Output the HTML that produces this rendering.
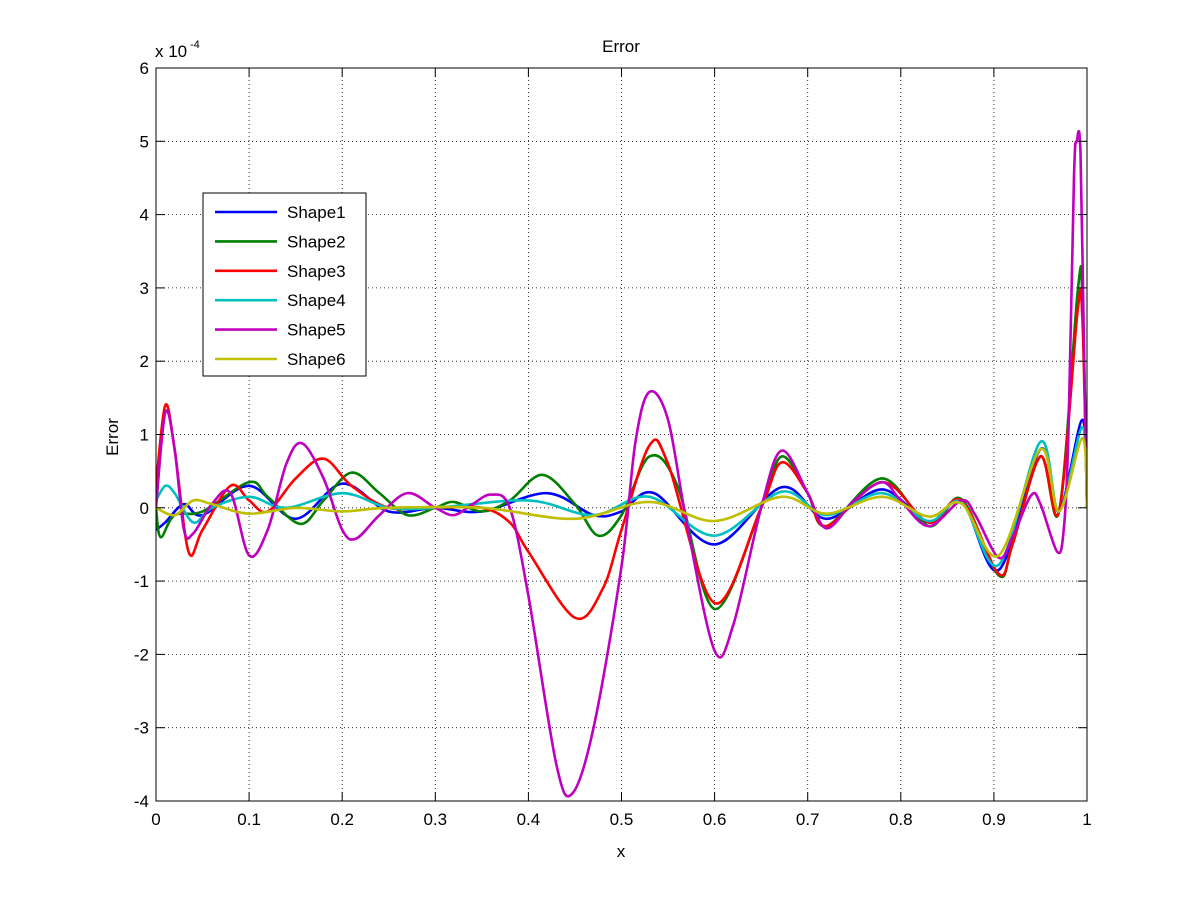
<!DOCTYPE html>
<html><head><meta charset="utf-8"><style>
body{margin:0;background:#fff}
svg text{font-family:"Liberation Sans",Arial,sans-serif;font-size:17px;fill:#000}
</style></head><body>
<svg id="s" width="1201" height="901" viewBox="0 0 1201 901" xmlns="http://www.w3.org/2000/svg">
<rect width="1201" height="901" fill="#fff"/>
<defs><clipPath id="c"><rect x="156" y="68" width="931" height="733"/></clipPath></defs>
<g id="grid"></g>
<g id="series" clip-path="url(#c)" fill="none" stroke-width="2.6" stroke-linejoin="round"></g>
<rect x="156" y="68" width="931" height="733" fill="none" stroke="#000" stroke-width="1"/>
<g id="ticks"></g>
<text x="621" y="52" text-anchor="middle">Error</text>
<text x="155" y="57" font-size="16">x 10</text><text x="190" y="48" style="font-size:11px">-4</text>
<text x="621" y="857" text-anchor="middle">x</text>
<text transform="translate(118,437) rotate(-90)" text-anchor="middle">Error</text>
<rect x="203" y="193" width="163" height="183" fill="#fff" stroke="#000" stroke-width="1"/>
<g id="leg"></g>
</svg>
<script>
const X0=156,X1=1087,Y6=68,Ym4=801;
const px=x=>X0+x*(X1-X0), py=y=>Y6+(6-y)*(Ym4-Y6)/10;
const NS="http://www.w3.org/2000/svg";
function el(p,t,a,txt){const e=document.createElementNS(NS,t);for(const k in a)e.setAttribute(k,a[k]);if(txt!=null)e.textContent=txt;document.getElementById(p).appendChild(e);}
for(let i=0;i<=10;i++){const x=px(i/10);
 if(i>0&&i<10)el("grid","line",{x1:x,y1:68,x2:x,y2:801,stroke:"#000","stroke-width":0.8,"stroke-dasharray":"1,3"});
 el("ticks","line",{x1:x,y1:801,x2:x,y2:792,stroke:"#000"});el("ticks","line",{x1:x,y1:68,x2:x,y2:77,stroke:"#000"});
 el("ticks","text",{x:x,y:825,"text-anchor":"middle"},i==0?"0":i==10?"1":(i/10).toFixed(1));}
for(let v=-4;v<=6;v++){const y=py(v);
 if(v>-4&&v<6)el("grid","line",{x1:156,y1:y,x2:1087,y2:y,stroke:"#000","stroke-width":0.8,"stroke-dasharray":"1,3"});
 el("ticks","line",{x1:156,y1:y,x2:165,y2:y,stroke:"#000"});el("ticks","line",{x1:1087,y1:y,x2:1078,y2:y,stroke:"#000"});
 el("ticks","text",{x:149,y:y+6,"text-anchor":"end"},String(v));}
const S=[
["#0000ff","Shape1",[[0,-0.3],[0.01,-0.2],[0.03,0.05],[0.05,-0.1],[0.1,0.3],[0.15,-0.15],[0.2,0.33],[0.25,-0.05],[0.3,0],[0.35,-0.05],[0.42,0.2],[0.47,-0.1],[0.5,-0.05],[0.535,0.2],[0.6,-0.5],[0.672,0.28],[0.72,-0.15],[0.78,0.25],[0.83,-0.2],[0.865,0.1],[0.905,-0.85],[0.95,0.8],[0.97,-0.05],[0.995,1.2],[1,0]]],
["#008000","Shape2",[[0,0],[0.005,-0.4],[0.02,-0.1],[0.05,-0.05],[0.1,0.35],[0.12,0.15],[0.155,-0.22],[0.18,0.1],[0.21,0.48],[0.24,0.2],[0.27,-0.1],[0.3,0],[0.32,0.08],[0.35,-0.05],[0.38,0.1],[0.415,0.45],[0.45,0.05],[0.475,-0.38],[0.5,-0.1],[0.53,0.7],[0.56,0.3],[0.6,-1.38],[0.65,0],[0.672,0.7],[0.7,0.2],[0.72,-0.25],[0.78,0.4],[0.83,-0.25],[0.865,0.12],[0.905,-0.92],[0.92,-0.5],[0.95,0.7],[0.97,-0.05],[0.99,2.95],[0.995,2.9],[1,0]]],
["#ff0000","Shape3",[[0,0.3],[0.01,1.4],[0.02,0.8],[0.035,-0.6],[0.05,-0.3],[0.08,0.3],[0.1,0.1],[0.12,-0.05],[0.15,0.4],[0.18,0.67],[0.21,0.3],[0.25,0],[0.3,0],[0.35,0],[0.38,-0.2],[0.4,-0.6],[0.45,-1.5],[0.48,-1.1],[0.5,-0.3],[0.53,0.85],[0.55,0.6],[0.6,-1.3],[0.65,0],[0.672,0.62],[0.7,0.2],[0.72,-0.25],[0.78,0.35],[0.83,-0.2],[0.865,0.1],[0.905,-0.9],[0.92,-0.5],[0.95,0.7],[0.97,-0.05],[0.99,2.7],[0.995,2.6],[1,0]]],
["#00bfbf","Shape4",[[0,0.1],[0.01,0.3],[0.02,0.2],[0.04,-0.2],[0.06,0],[0.1,0.15],[0.14,0],[0.2,0.2],[0.25,0],[0.3,0],[0.4,0.1],[0.47,-0.1],[0.53,0.15],[0.6,-0.38],[0.672,0.22],[0.72,-0.1],[0.78,0.2],[0.83,-0.18],[0.865,0.08],[0.905,-0.78],[0.95,0.9],[0.97,-0.05],[0.995,1.1],[1,0]]],
["#bf00bf","Shape5",[[0,0],[0.01,1.3],[0.02,0.8],[0.03,-0.3],[0.04,-0.35],[0.06,0.05],[0.08,0.2],[0.1,-0.65],[0.12,-0.3],[0.14,0.6],[0.157,0.88],[0.18,0.4],[0.2,-0.3],[0.215,-0.42],[0.24,-0.1],[0.27,0.2],[0.3,0],[0.32,-0.1],[0.34,0.05],[0.36,0.18],[0.38,0],[0.4,-1.2],[0.43,-3.5],[0.447,-3.9],[0.47,-3.0],[0.5,-0.8],[0.515,0.9],[0.53,1.58],[0.55,1.2],[0.57,-0.2],[0.6,-1.95],[0.62,-1.6],[0.65,0],[0.672,0.78],[0.7,0.2],[0.72,-0.28],[0.75,0.1],[0.78,0.35],[0.8,0.1],[0.83,-0.25],[0.865,0.1],[0.88,-0.1],[0.905,-0.68],[0.92,-0.4],[0.94,0.17],[0.95,0.05],[0.968,-0.6],[0.975,-0.3],[0.98,1.0],[0.986,4.5],[0.989,5.0],[0.993,4.85],[0.997,2],[1,0]]],
["#bfbf00","Shape6",[[0,0],[0.02,-0.1],[0.04,0.1],[0.06,0.05],[0.1,-0.08],[0.15,0],[0.2,-0.05],[0.25,0],[0.35,0],[0.45,-0.15],[0.53,0.08],[0.6,-0.18],[0.672,0.15],[0.72,-0.08],[0.78,0.15],[0.83,-0.12],[0.865,0.06],[0.905,-0.65],[0.95,0.8],[0.97,-0.05],[0.995,0.95],[1,0]]]];
S.forEach((s,i)=>{const p=s[2].map(a=>[px(a[0]),py(a[1])]);let d="M"+p[0][0]+","+p[0][1];
 for(let k=0;k<p.length-1;k++){const a=p[Math.max(0,k-1)],b=p[k],c=p[k+1],e=p[Math.min(p.length-1,k+2)];
  d+=`C${b[0]+(c[0]-a[0])/6},${b[1]+(c[1]-a[1])/6} ${c[0]-(e[0]-b[0])/6},${c[1]-(e[1]-b[1])/6} ${c[0]},${c[1]}`;}
 el("series","path",{d:d,stroke:s[0]});
 const y=212+i*29.4;el("leg","line",{x1:215,y1:y,x2:277,y2:y,stroke:s[0],"stroke-width":2.6});
 el("leg","text",{x:287,y:y+6},s[1]);});
</script>
</body></html>
